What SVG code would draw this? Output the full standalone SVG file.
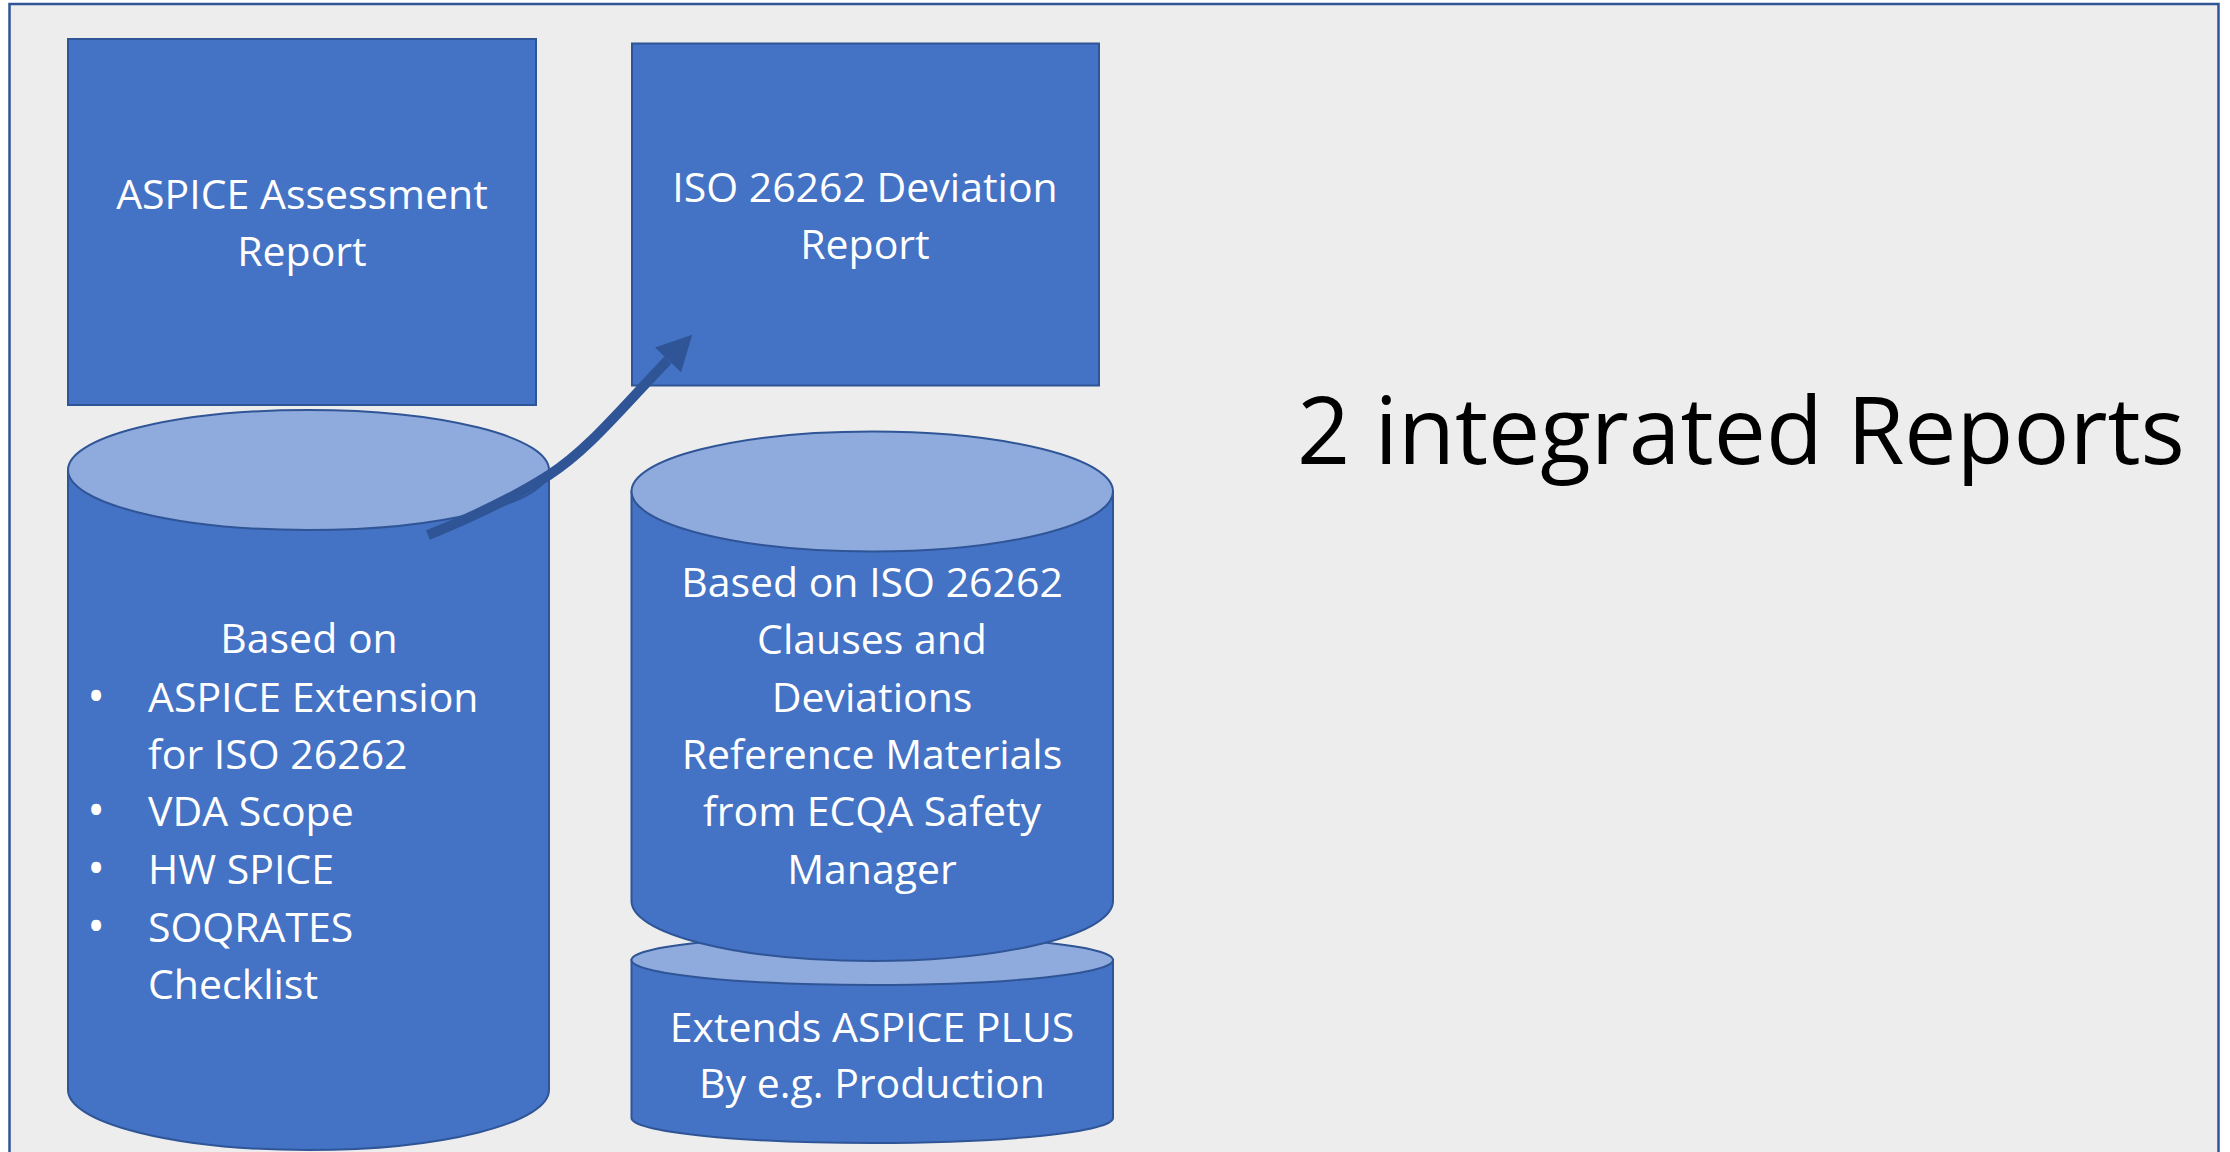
<svg xmlns="http://www.w3.org/2000/svg" width="2230" height="1152" viewBox="0 0 2230 1152">
  <defs>
    <style>
      .box { fill: #4472C4; stroke: #2F5597; stroke-width: 2; }
      .cap { fill: #8FAADC; stroke: #2F5597; stroke-width: 2; }
      .lbl { font-family: "Open Sans", "Noto Sans", "Liberation Sans", sans-serif; font-size: 41px; fill: #FFFFFF; }
      .mid { text-anchor: middle; }
      .bul { font-family: "Open Sans", "Noto Sans", "Liberation Sans", sans-serif; font-size: 47px; fill: #FFFFFF; text-anchor: middle; }
      .title { font-family: "Open Sans", "Noto Sans", "Liberation Sans", sans-serif; font-size: 93px; fill: #000000; text-anchor: middle; }
      .conn { fill: none; stroke: #2F5597; stroke-width: 10; }
    </style>
    <marker id="head" markerUnits="userSpaceOnUse" viewBox="0 0 36 36" refX="0" refY="18" markerWidth="36" markerHeight="36" orient="auto">
      <path d="M0,0 L35,18 L0,36 Z" fill="#2F5597"/>
    </marker>
  </defs>

  <rect x="0" y="0" width="2230" height="1152" fill="#FFFFFF"/>
  <rect id="frame" x="9.5" y="4" width="2209" height="1170" fill="#EDEDED" stroke="#2F5597" stroke-width="2.5"/>

  <g id="aspice-report">
    <rect class="box" x="68" y="39" width="468" height="366"/>
    <text class="lbl mid" x="302" y="209">ASPICE Assessment</text>
    <text class="lbl mid" x="302" y="266">Report</text>
  </g>

  <g id="iso-report">
    <rect class="box" x="632" y="43.5" width="467" height="342"/>
    <text class="lbl mid" x="865" y="202">ISO 26262 Deviation</text>
    <text class="lbl mid" x="865" y="259">Report</text>
  </g>

  <g id="aspice-db">
    <path class="box" d="M68,470 V1090 A240.5,60 0 0 0 549,1090 V470 Z"/>
    <ellipse class="cap" cx="308.5" cy="470" rx="240.5" ry="60"/>
    <text class="lbl mid" x="309" y="653">Based on</text>
    <text class="bul" x="96" y="713">•</text>
    <text class="lbl" x="148" y="712">ASPICE Extension</text>
    <text class="lbl" x="148" y="769">for ISO 26262</text>
    <text class="bul" x="96" y="827">•</text>
    <text class="lbl" x="148" y="826">VDA Scope</text>
    <text class="bul" x="96" y="885">•</text>
    <text class="lbl" x="148" y="884">HW SPICE</text>
    <text class="bul" x="96" y="943">•</text>
    <text class="lbl" x="148" y="942">SOQRATES</text>
    <text class="lbl" x="148" y="999">Checklist</text>
  </g>

  <g id="aspice-plus-db">
    <path class="box" d="M631.5,960 V1118 A240.75,25 0 0 0 1113,1118 V960 Z"/>
    <ellipse class="cap" cx="872.25" cy="960" rx="240.75" ry="25"/>
    <text class="lbl mid" x="872" y="1042">Extends ASPICE PLUS</text>
    <text class="lbl mid" x="872" y="1098">By e.g. Production</text>
  </g>

  <g id="iso-db">
    <path class="box" d="M631.5,491.5 V901 A240.75,60 0 0 0 1113,901 V491.5 Z"/>
    <ellipse class="cap" cx="872.25" cy="491.5" rx="240.75" ry="60"/>
    <text class="lbl mid" x="872" y="597">Based on ISO 26262</text>
    <text class="lbl mid" x="872" y="654">Clauses and</text>
    <text class="lbl mid" x="872" y="712">Deviations</text>
    <text class="lbl mid" x="872" y="769">Reference Materials</text>
    <text class="lbl mid" x="872" y="826">from ECQA Safety</text>
    <text class="lbl mid" x="872" y="884">Manager</text>
  </g>

  <g id="title">
    <text class="title" x="1741" y="464">2 integrated Reports</text>
  </g>

  <g id="connectors">
    <path class="conn" d="M428,535 C470,518 510,500 549,475 S620,410 668,360" marker-end="url(#head)"/>
  </g>
</svg>
